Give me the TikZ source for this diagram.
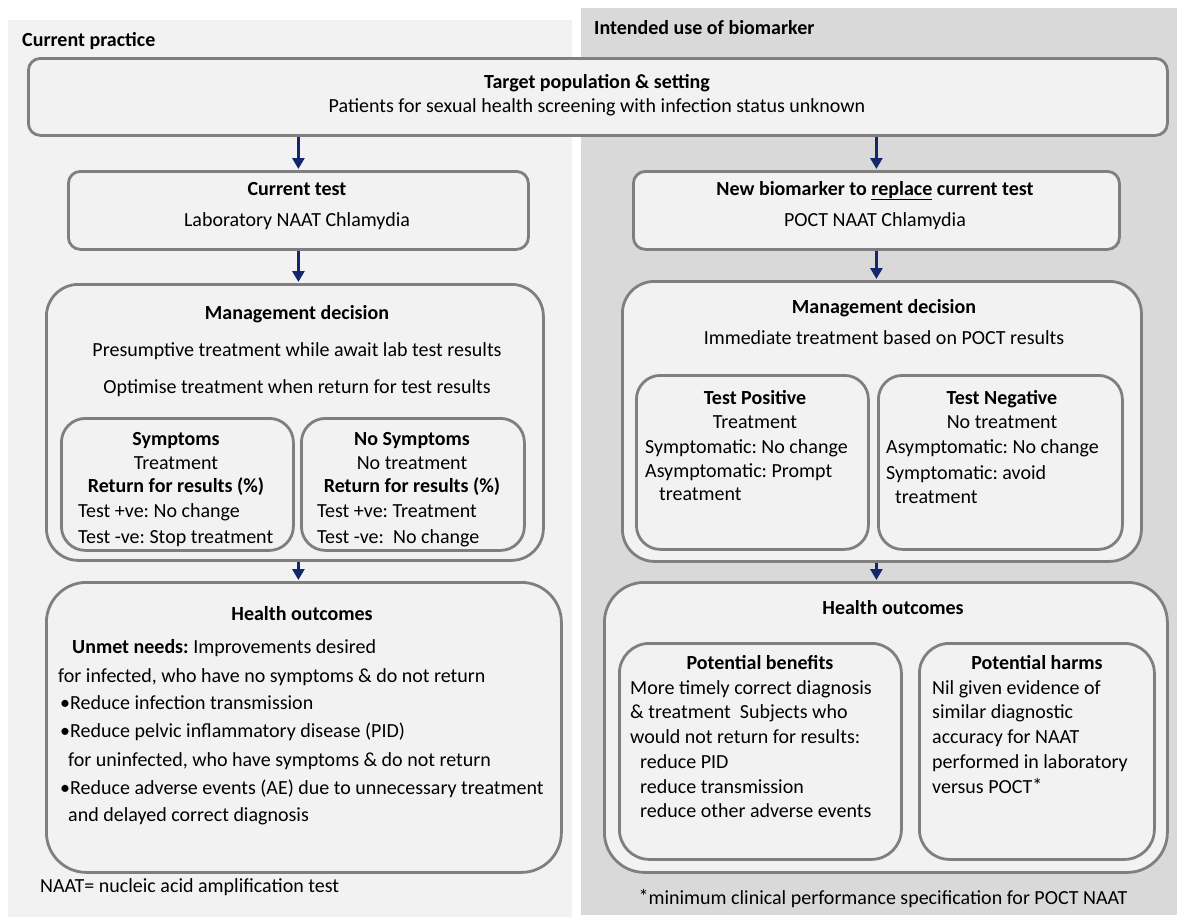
\documentclass[tikz,border=0pt]{standalone}
\usepackage{fontspec}
\setmainfont{Carlito}
\usetikzlibrary{arrows.meta}
\definecolor{panelL}{HTML}{F2F2F2}
\definecolor{panelR}{HTML}{D9D9D9}
\definecolor{boxfill}{HTML}{F2F2F2}
\definecolor{boxline}{HTML}{7F7F7F}
\definecolor{navy}{HTML}{12286A}
\tikzset{
  box/.style={draw=boxline, fill=boxfill, line width=2.8pt, anchor=north west, inner sep=0pt},
  txt/.style={font=\fontsize{20}{25}\selectfont\frenchspacing, inner sep=0pt, anchor=base},
  txtl/.style={txt, anchor=base west, align=left},
  flow/.style={draw=navy, line width=3.2pt, -{Triangle[width=12pt,length=11pt]}, shorten >=1pt},
}
\newcommand{\notestar}{\raisebox{1pt}{*}}
\begin{document}
\begin{tikzpicture}[x=1pt,y=-1pt]
\useasboundingbox (0,0) rectangle (1179,924);
% background panels
\fill[panelL] (8,20) rectangle (572,917);
\fill[panelR] (581,8) rectangle (1177,915);
\node[txt, anchor=base west, font=\fontsize{20}{25}\selectfont\bfseries] (ttlL) at (22,46) {Current practice};
\node[txt, anchor=base west, font=\fontsize{20}{25}\selectfont\bfseries] (ttlR) at (594,34) {Intended use of biomarker};

% target population
\node[box, rounded corners=12pt, minimum width=1139pt, minimum height=77pt] (top) at (27,57) {};
\node[txt] (topA) at (597,88) {\bfseries Target population \& setting};
\node[txt] (topB) at (597,112) {Patients for sexual health screening with infection status unknown};

% tests
\node[box, rounded corners=12pt, minimum width=460pt, minimum height=78pt] (cur) at (67,170) {};
\node[txt] (curA) at (297,195) {\bfseries Current test};
\node[txt] (curB) at (297,226) {Laboratory NAAT Chlamydia};
\node[box, rounded corners=12pt, minimum width=486pt, minimum height=78pt] (new) at (632,170) {};
\node[txt] (newA) at (875,195) {\bfseries New biomarker to \underline{replace} current test};
\node[txt] (newB) at (875,226) {POCT NAAT Chlamydia};

% management, current practice
\node[box, rounded corners=32pt, minimum width=497pt, minimum height=276pt] (mgL) at (45,283) {};
\node[txt] (mgLA) at (297,319) {\bfseries Management decision};
\node[txt] (mgLB) at (297,356) {Presumptive treatment while await lab test results};
\node[txt] (mgLC) at (297,393) {Optimise treatment when return for test results};
\node[box, rounded corners=24pt, minimum width=232pt, minimum height=132pt] (sym) at (60,417) {};
\node[txt] (symA) at (176,445) {\bfseries Symptoms};
\node[txt] (symB) at (176,469) {Treatment};
\node[txt] (symC) at (176,492) {\bfseries Return for results (\%)};
\node[txtl] (symD) at (78,517) {Test +ve: No change};
\node[txtl] (symE) at (78,543) {Test -ve: Stop treatment};
\node[box, rounded corners=24pt, minimum width=223pt, minimum height=132pt] (nos) at (300,417) {};
\node[txt] (nosA) at (412,445) {\bfseries No Symptoms};
\node[txt] (nosB) at (412,469) {No treatment};
\node[txt] (nosC) at (412,492) {\bfseries Return for results (\%)};
\node[txtl] (nosD) at (317,517) {Test +ve: Treatment};
\node[txtl] (nosE) at (317,543) {Test -ve:\ \ No change};

% management, biomarker
\node[box, rounded corners=32pt, minimum width=519pt, minimum height=280pt] (mgR) at (621,280) {};
\node[txt] (mgRA) at (884,313) {\bfseries Management decision};
\node[txt] (mgRB) at (884,344) {Immediate treatment based on POCT results};
\node[box, rounded corners=24pt, minimum width=232pt, minimum height=174pt] (pos) at (635,374) {};
\node[txt] (posA) at (755,404) {\bfseries Test Positive};
\node[txt] (posB) at (755,428) {Treatment};
\node[txtl] (posC) at (645,453) {Symptomatic: No change};
\node[txtl] (posD) at (645,477) {Asymptomatic: Prompt};
\node[txtl] (posE) at (659,500) {treatment};
\node[box, rounded corners=24pt, minimum width=244pt, minimum height=174pt] (neg) at (877,374) {};
\node[txt] (negA) at (1002,404) {\bfseries Test Negative};
\node[txt] (negB) at (1002,428) {No treatment};
\node[txtl] (negC) at (886,453) {Asymptomatic: No change};
\node[txtl] (negD) at (886,479) {Symptomatic: avoid};
\node[txtl] (negE) at (895,503) {treatment};

% health outcomes, current practice
\node[box, rounded corners=40pt, minimum width=515pt, minimum height=290pt] (hoL) at (45,581) {};
\node[txt] (hoLA) at (302,620) {\bfseries Health outcomes};
\node[txtl] (hoLB) at (72,653) {\bfseries Unmet needs: \mdseries Improvements desired};
\node[txtl] (hoLC) at (58,682) {for infected, who have no symptoms \& do not return};
\node[txtl] (hoLD) at (60,709) {•Reduce infection transmission};
\node[txtl] (hoLE) at (60,737) {•Reduce pelvic inflammatory disease (PID)};
\node[txtl] (hoLF) at (68,766) {for uninfected, who have symptoms \& do not return};
\node[txtl] (hoLG) at (60,794) {•Reduce adverse events (AE) due to unnecessary treatment};
\node[txtl] (hoLH) at (68,821) {and delayed correct diagnosis};

% health outcomes, biomarker
\node[box, rounded corners=40pt, minimum width=563pt, minimum height=290pt] (hoR) at (603,581) {};
\node[txt] (hoRA) at (893,614) {\bfseries Health outcomes};
\node[box, rounded corners=30pt, minimum width=282pt, minimum height=216pt] (ben) at (618,642) {};
\node[txt] (benA) at (760,669) {\bfseries Potential benefits};
\node[txtl] (benB) at (630,694) {More timely correct diagnosis};
\node[txtl] (benC) at (630,718) {\& treatment\ \ Subjects who};
\node[txtl] (benD) at (630,743) {would not return for results:};
\node[txtl] (benE) at (640,768) {reduce PID};
\node[txtl] (benF) at (640,793) {reduce transmission};
\node[txtl] (benG) at (640,817) {reduce other adverse events};
\node[box, rounded corners=30pt, minimum width=235pt, minimum height=216pt] (harm) at (918,642) {};
\node[txt] (harmA) at (1037,669) {\bfseries Potential harms};
\node[txtl] (harmB) at (932,694) {Nil given evidence of};
\node[txtl] (harmC) at (932,718) {similar diagnostic};
\node[txtl] (harmD) at (932,743) {accuracy for NAAT};
\node[txtl] (harmE) at (932,768) {performed in laboratory};
\node[txtl] (harmF) at (932,793) {versus POCT\notestar};

% footnotes
\node[txtl] (noteL) at (40,892) {NAAT= nucleic acid amplification test};
\node[txt] (noteR) at (883,904) {\notestar minimum clinical performance specification for POCT NAAT};

% flow arrows
\draw[flow] (cur.north |- top.south) -- (cur.north);
\draw[flow] (new.north |- top.south) -- (new.north);
\draw[flow] (cur.south) -- (cur.south |- mgL.north);
\draw[flow] (new.south) -- (new.south |- mgR.north);
\draw[flow] (cur.south |- mgL.south) -- (cur.south |- hoL.north);
\draw[flow] (new.south |- mgR.south) -- (new.south |- hoR.north);
\end{tikzpicture}
\end{document}
